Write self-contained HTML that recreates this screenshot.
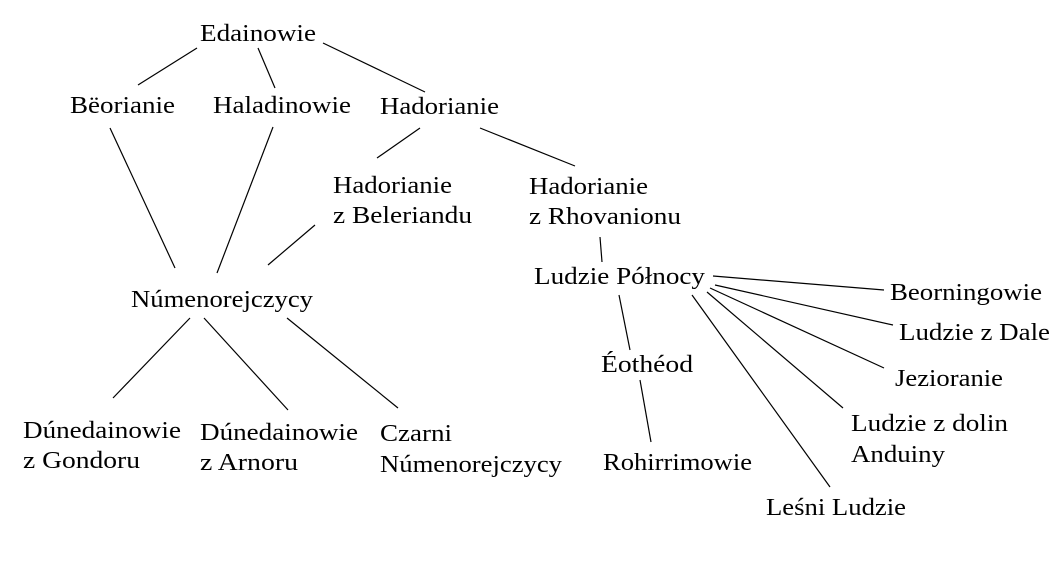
<!DOCTYPE html>
<html><head><meta charset="utf-8"><style>
html,body{margin:0;padding:0;background:#fff;}
svg{display:block;}
text{font-family:"Liberation Serif",serif;font-size:24px;fill:#000;}
line{stroke:#000;stroke-width:1.2;}
</style></head><body>
<svg width="1055" height="569" viewBox="0 0 1055 569" xmlns="http://www.w3.org/2000/svg">
<rect width="1055" height="569" fill="#fff"/>
<line x1="197" y1="48" x2="138" y2="85"/>
<line x1="258" y1="48" x2="275" y2="88"/>
<line x1="323" y1="43" x2="425" y2="92"/>
<line x1="110" y1="128" x2="175" y2="268"/>
<line x1="273" y1="127" x2="217" y2="273"/>
<line x1="420" y1="128" x2="377" y2="158"/>
<line x1="480" y1="128" x2="575" y2="166"/>
<line x1="315" y1="225" x2="268" y2="265"/>
<line x1="600" y1="237" x2="602" y2="262"/>
<line x1="619" y1="295" x2="630" y2="350"/>
<line x1="640" y1="380" x2="651" y2="442"/>
<line x1="713" y1="276" x2="884" y2="290"/>
<line x1="715" y1="285" x2="893" y2="325"/>
<line x1="710" y1="288" x2="884" y2="368"/>
<line x1="707" y1="292" x2="843" y2="408"/>
<line x1="692" y1="295" x2="830" y2="487"/>
<line x1="190" y1="318" x2="113" y2="398"/>
<line x1="204" y1="318" x2="288" y2="410"/>
<line x1="287" y1="318" x2="398" y2="408"/>
<g lengthAdjust="spacingAndGlyphs">
<text x="200" y="41" textLength="116" lengthAdjust="spacingAndGlyphs">Edainowie</text>
<text x="70" y="113" textLength="105" lengthAdjust="spacingAndGlyphs">Bëorianie</text>
<text x="213" y="113" textLength="138" lengthAdjust="spacingAndGlyphs">Haladinowie</text>
<text x="380" y="114" textLength="119" lengthAdjust="spacingAndGlyphs">Hadorianie</text>
<text x="333" y="193" textLength="119" lengthAdjust="spacingAndGlyphs">Hadorianie</text>
<text x="333" y="223" textLength="139" lengthAdjust="spacingAndGlyphs">z Beleriandu</text>
<text x="529" y="194" textLength="119" lengthAdjust="spacingAndGlyphs">Hadorianie</text>
<text x="529" y="224" textLength="152" lengthAdjust="spacingAndGlyphs">z Rhovanionu</text>
<text x="534" y="284" textLength="171" lengthAdjust="spacingAndGlyphs">Ludzie Północy</text>
<text x="131" y="307" textLength="182" lengthAdjust="spacingAndGlyphs">Númenorejczycy</text>
<text x="890" y="300" textLength="152" lengthAdjust="spacingAndGlyphs">Beorningowie</text>
<text x="899" y="340" textLength="151" lengthAdjust="spacingAndGlyphs">Ludzie z Dale</text>
<text x="895" y="386" textLength="108" lengthAdjust="spacingAndGlyphs">Jezioranie</text>
<text x="851" y="431" textLength="157" lengthAdjust="spacingAndGlyphs">Ludzie z dolin</text>
<text x="851" y="462" textLength="94" lengthAdjust="spacingAndGlyphs">Anduiny</text>
<text x="601" y="372" textLength="92" lengthAdjust="spacingAndGlyphs">Éothéod</text>
<text x="603" y="470" textLength="149" lengthAdjust="spacingAndGlyphs">Rohirrimowie</text>
<text x="766" y="515" textLength="140" lengthAdjust="spacingAndGlyphs">Leśni Ludzie</text>
<text x="23" y="438" textLength="158" lengthAdjust="spacingAndGlyphs">Dúnedainowie</text>
<text x="23" y="468" textLength="117" lengthAdjust="spacingAndGlyphs">z Gondoru</text>
<text x="200" y="440" textLength="158" lengthAdjust="spacingAndGlyphs">Dúnedainowie</text>
<text x="200" y="470" textLength="98" lengthAdjust="spacingAndGlyphs">z Arnoru</text>
<text x="380" y="441" textLength="72" lengthAdjust="spacingAndGlyphs">Czarni</text>
<text x="380" y="472" textLength="182" lengthAdjust="spacingAndGlyphs">Númenorejczycy</text>
</g>
</svg>
</body></html>
